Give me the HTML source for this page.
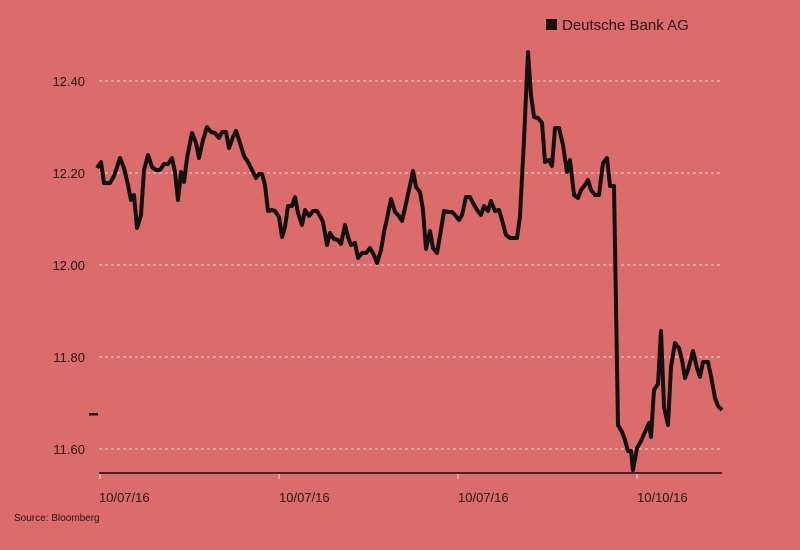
<!DOCTYPE html>
<html><head><style>
html,body{margin:0;padding:0;background:#dc6b6b;}
svg{display:block;font-family:"Liberation Sans",sans-serif;}
</style></head><body>
<svg width="800" height="550" viewBox="0 0 800 550">
<rect width="800" height="550" fill="#dc6b6b"/>
<g stroke="#f4d6d6" stroke-width="1" stroke-dasharray="3,3">
<line x1="99" y1="81" x2="722" y2="81"/>
<line x1="99" y1="173" x2="722" y2="173"/>
<line x1="99" y1="265" x2="722" y2="265"/>
<line x1="99" y1="357" x2="722" y2="357"/>
<line x1="99" y1="449" x2="722" y2="449"/>
</g>
<g font-size="13" fill="#2a1414" text-anchor="end">
<text x="85" y="86">12.40</text>
<text x="85" y="178">12.20</text>
<text x="85" y="270">12.00</text>
<text x="85" y="362">11.80</text>
<text x="85" y="454">11.60</text>
</g>
<line x1="99" y1="473" x2="722" y2="473" stroke="#1a1010" stroke-width="1.5"/>
<g stroke="#f4d6d6" stroke-width="1">
<line x1="100" y1="474" x2="100" y2="479"/>
<line x1="279" y1="474" x2="279" y2="479"/>
<line x1="458" y1="474" x2="458" y2="479"/>
<line x1="637" y1="474" x2="637" y2="479"/>
</g>
<g font-size="13" fill="#2a1414">
<text x="99" y="502">10/07/16</text>
<text x="279" y="502">10/07/16</text>
<text x="458" y="502">10/07/16</text>
<text x="637" y="502">10/10/16</text>
</g>
<text x="14" y="521" font-size="10" fill="#2a1414">Source: Bloomberg</text>
<rect x="89" y="413" width="9" height="2.5" fill="#1a1010"/>
<rect x="546" y="19" width="11" height="11" fill="#1a1010"/>
<text x="562" y="30" font-size="15" fill="#2a1414">Deutsche Bank AG</text>
<polyline fill="none" stroke="#141010" stroke-width="4" stroke-linejoin="round" points="97,168 101,162 104,183 110,183 114,176 120,158 124,168 128,185 131,200 134,195 137,228 141,215 144,170 148,155 152,167 156,170 160,170 164,164 168,164 172,158 175,172 178,200 181,172 184,182 187,158 192,133 196,143 199,158 203,140 207,127 211,132 215,133 219,138 222,132 226,132 229,148 233,137 236,131 240,143 244,156 248,162 252,170 256,178 259,174 262,174 265,185 268,211 272,210 275,211 279,217 282,237 285,227 288,206 292,206 295,197 298,213 302,225 305,210 309,216 313,211 317,211 320,216 323,222 327,245 330,233 334,239 338,240 341,244 345,225 348,237 351,245 355,243 358,258 362,253 366,253 370,248 374,255 377,263 381,250 384,232 388,214 391,199 395,212 399,216 402,221 405,208 409,190 413,171 416,187 420,192 423,210 426,249 430,231 433,248 437,253 440,236 444,211 448,212 452,212 455,215 459,220 462,215 466,197 470,197 473,203 477,210 481,215 484,206 488,211 491,201 495,211 499,210 502,220 506,235 510,238 514,238 517,238 520,216 524,140 528,52 531,95 534,117 538,118 542,123 545,162 549,160 552,166 555,128 559,128 563,145 567,172 570,160 574,195 578,198 581,190 585,185 588,180 591,190 595,195 599,195 603,163 607,158 610,186 614,186 618,425 622,432 625,440 628,451 631,451 633,470 637,448 641,441 645,432 649,423 651,437 654,390 658,384 661,331 664,407 668,425 671,367 675,343 679,348 682,360 685,378 688,370 693,351 697,368 700,377 703,362 708,362 711,376 715,398 718,406 722,410"/>
</svg>
</body></html>
